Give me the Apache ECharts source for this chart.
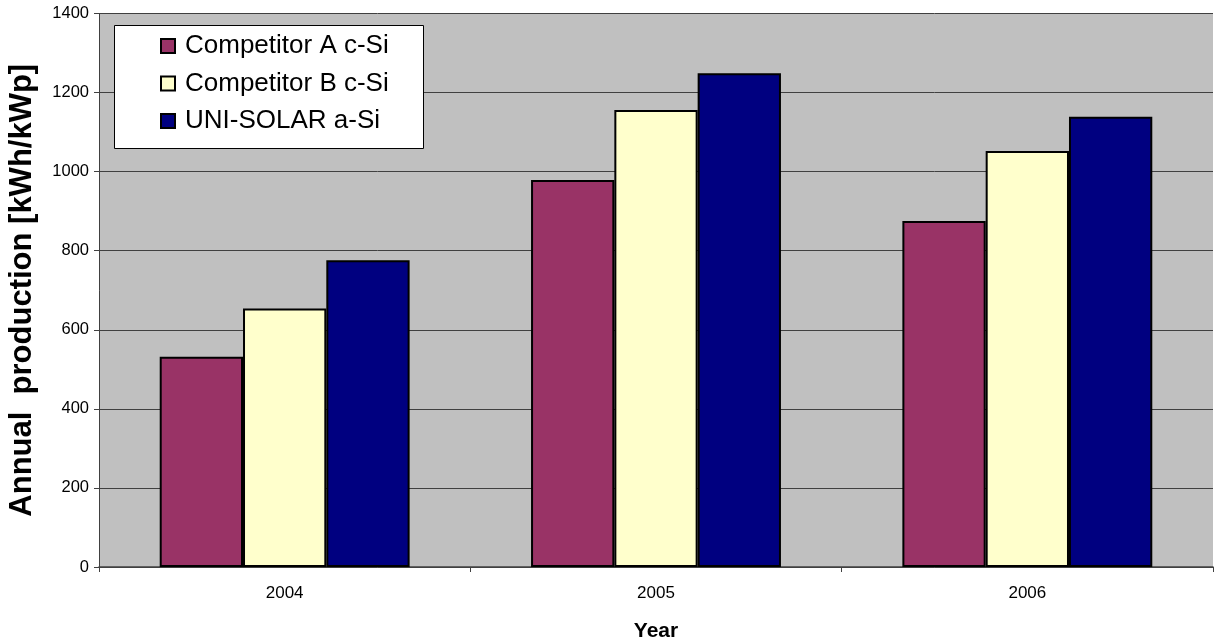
<!DOCTYPE html>
<html><head><meta charset="utf-8">
<script src="https://cdn.jsdelivr.net/npm/echarts@6/dist/echarts.min.js"></script>
<style>html,body{margin:0;padding:0;background:#fff}#c{width:1214px;height:643px}</style>
</head><body><div id="c"></div>
<script>
const categories = ['2004', '2005', '2006'];
const seriesNames = ['Competitor A c-Si', 'Competitor B c-Si', 'UNI-SOLAR a-Si'];
const competitorA = [532, 979, 875];
const competitorB = [654, 1156, 1052];
const uniSolar = [776, 1249, 1139];
const colors = ['#993366', '#FFFFCC', '#000080'];
const font = 'Liberation Sans, Arial, sans-serif';

const chart = echarts.init(document.getElementById('c'));
const values = [competitorA, competitorB, uniSolar];
chart.setOption({
  animation: false,
  backgroundColor: '#fff',
  grid: { left: 99, right: 1, top: 13.5, bottom: 76, backgroundColor: '#c0c0c0', show: true, borderWidth: 0, outerBoundsMode: 'none', containLabel: false },
  graphic: [{
    type: 'rect', left: 114, top: 25, z: 10,
    shape: { width: 309, height: 123 },
    style: { fill: '#fff', stroke: '#000', lineWidth: 1 }
  }],
  legend: {
    orient: 'vertical', left: 160, top: 33, z: 20, padding: 0,
    itemWidth: 14, itemHeight: 14, itemGap: 11.5,
    icon: 'rect',
    textStyle: { fontFamily: font, fontSize: 26, color: '#000', lineHeight: 26, padding: [0, 0, 0, 5] },
    data: seriesNames
  },
  xAxis: {
    type: 'category', data: categories,
    name: 'Year', nameLocation: 'middle', nameGap: 54,
    nameTextStyle: { fontFamily: font, fontSize: 21, fontWeight: 'bold', color: '#000', letterSpacing: 3 },
    axisLine: { lineStyle: { color: '#404040', width: 1.5 } },
    axisTick: { show: true, length: 5, lineStyle: { color: '#404040' } },
    axisLabel: { fontFamily: font, fontSize: 17, color: '#000', margin: 18 },
    splitLine: { show: false }
  },
  yAxis: {
    type: 'value', min: 0, max: 1400, interval: 200,
    name: 'Annual  production [kWh/kWp]', nameLocation: 'middle', nameGap: 61, nameRotate: 90,
    nameTextStyle: { fontFamily: font, fontSize: 31, fontWeight: 'bold', color: '#000' },
    axisLine: { show: true, lineStyle: { color: '#404040', width: 1 } },
    axisTick: { show: true, length: 5, lineStyle: { color: '#404040' } },
    axisLabel: { fontFamily: font, fontSize: 16.5, color: '#000', margin: 10, formatter: v => String(v) },
    splitLine: { show: true, lineStyle: { color: '#404040', width: 1 } }
  },
  series: seriesNames.map((n, i) => ({
    name: n, type: 'bar', data: values[i],
    barGap: '0%', barCategoryGap: '32.7%',
    itemStyle: { color: colors[i], borderColor: '#000', borderWidth: 2 }
  }))
});
</script></body></html>
